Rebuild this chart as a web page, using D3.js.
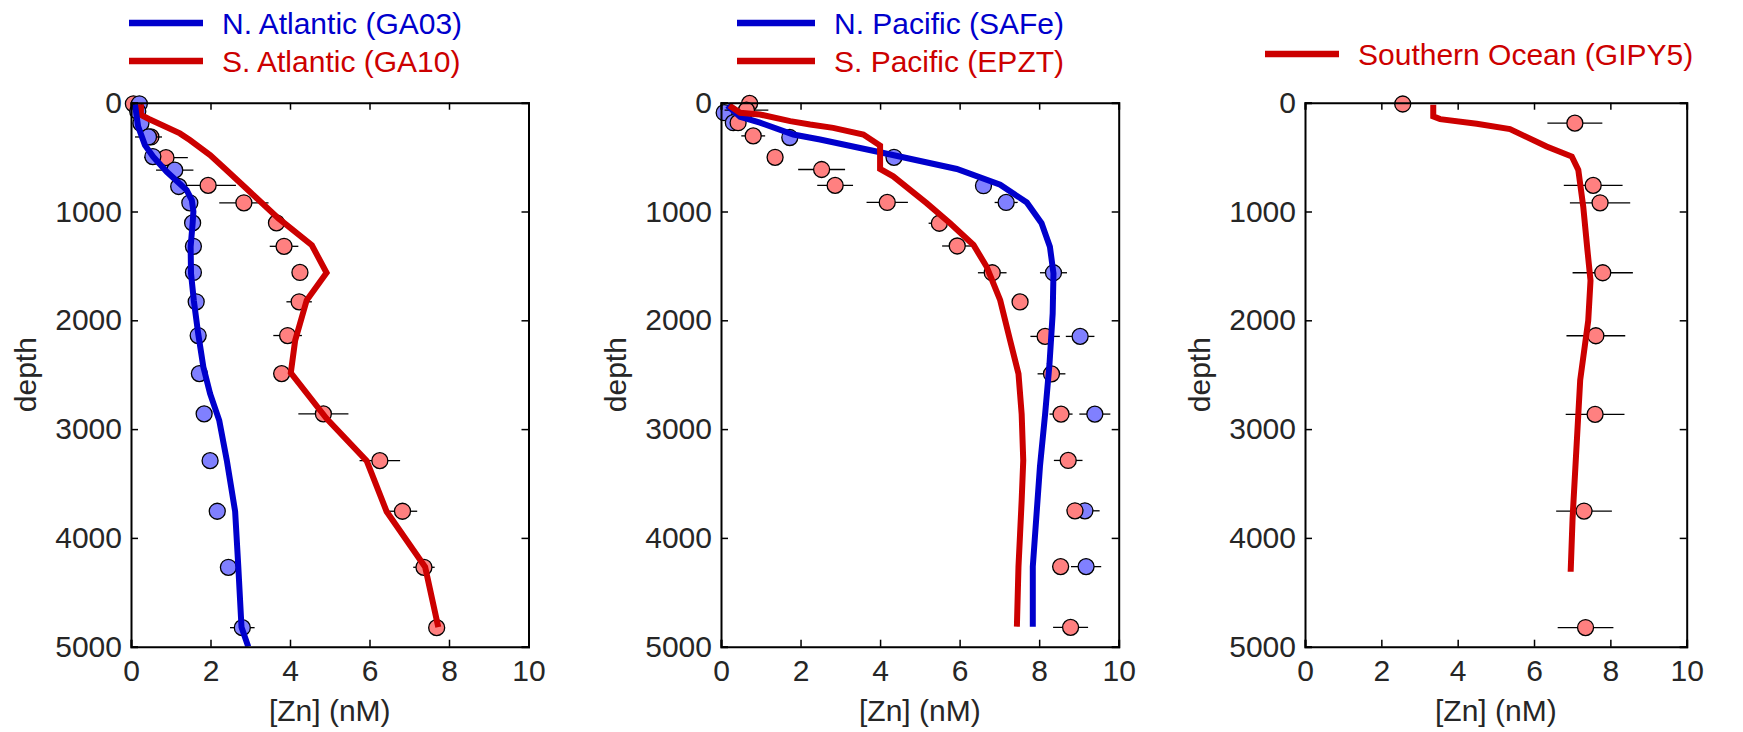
<!DOCTYPE html>
<html>
<head>
<meta charset="utf-8">
<script src="https://cdn.jsdelivr.net/npm/d3@7"></script>
<style>
  html, body { margin: 0; padding: 0; background: #fff; }
  svg { display: block; font-family: "Liberation Sans", Arial, Helvetica, sans-serif; }
</style>
</head>
<body>
<svg id="chart" width="1743" height="732"></svg>
<script>
// ---- Dissolved zinc profiles: observations (circles) and model (lines) ----

// N. Atlantic (GA03)
const ga03Depth = [10, 80, 190, 315, 495, 620, 770, 920, 1105, 1320, 1560, 1830, 2140, 2490, 2860, 3290, 3755, 4270, 4825];
const ga03Zn    = [0.21, 0.17, 0.25, 0.44, 0.55, 1.10, 1.20, 1.48, 1.55, 1.57, 1.57, 1.64, 1.69, 1.72, 1.84, 1.99, 2.17, 2.45, 2.80];
const ga03Err   = [0, 0, 0, 0.34, 0, 0.47, 0, 0, 0, 0, 0, 0, 0, 0, 0, 0, 0, 0, 0.31];
const ga03ModelDepth = [15, 220, 390, 497, 635, 803, 895, 1000, 1110, 1325, 1570, 1816, 2122, 2429, 2674, 2920, 3287, 3757, 4268, 4820, 5000];
const ga03ModelZn    = [0.10, 0.18, 0.35, 0.56, 0.90, 1.40, 1.53, 1.57, 1.55, 1.50, 1.51, 1.58, 1.69, 1.82, 1.99, 2.22, 2.41, 2.62, 2.70, 2.78, 2.95];

// S. Atlantic (GA10)
const ga10Depth = [10, 315, 505, 760, 920, 1105, 1320, 1560, 1830, 2140, 2490, 2860, 3290, 3755, 4270, 4825];
const ga10Zn    = [0.06, 0.50, 0.88, 1.94, 2.84, 3.66, 3.85, 4.25, 4.23, 3.94, 3.79, 4.84, 6.26, 6.83, 7.37, 7.69];
const ga10Err   = [0, 0, 0.55, 0.70, 0.62, 0, 0.36, 0, 0.32, 0.36, 0.20, 0.63, 0.51, 0.37, 0.27, 0.10];
const ga10ModelDepth = [15, 113, 150, 282, 343, 481, 619, 819, 1064, 1310, 1564, 1816, 2184, 2484, 2904, 3293, 3757, 4268, 4820];
const ga10ModelZn    = [0.25, 0.25, 0.45, 1.23, 1.48, 1.99, 2.40, 2.99, 3.71, 4.55, 4.92, 4.42, 4.13, 4.02, 4.92, 5.93, 6.43, 7.40, 7.73];

// N. Pacific (SAFe)
const safeDepth = [92, 184, 320, 502, 763, 917, 1563, 2148, 2862, 3751, 4264];
const safeZn    = [0.08, 0.31, 1.73, 4.35, 6.60, 7.17, 8.36, 9.03, 9.40, 9.15, 9.18];
const safeErr   = [0, 0, 0, 0, 0, 0.29, 0.34, 0.36, 0.39, 0.37, 0.38];
const safeModelDepth = [25, 129, 184, 292, 338, 455, 609, 754, 917, 1108, 1323, 1569, 1938, 2400, 2862, 3343, 3956, 4264, 4816];
const safeModelZn    = [0.16, 0.48, 0.98, 1.82, 2.49, 4.00, 5.93, 7.02, 7.69, 8.06, 8.27, 8.36, 8.34, 8.26, 8.15, 8.02, 7.90, 7.84, 7.84];

// S. Pacific (EPZT)
const epztDepth = [6, 68, 184, 305, 502, 614, 760, 917, 1108, 1317, 1563, 1831, 2148, 2492, 2862, 3288, 3751, 4264, 4822];
const epztZn    = [0.72, 0.64, 0.43, 0.81, 1.36, 2.53, 2.87, 4.18, 5.49, 5.94, 6.82, 7.52, 8.15, 8.31, 8.55, 8.73, 8.90, 8.54, 8.79];
const epztErr   = [0.50, 0.55, 0, 0.30, 0, 0.59, 0.45, 0.52, 0.27, 0.38, 0.36, 0, 0.37, 0.35, 0.29, 0.36, 0.20, 0.20, 0.44];
const epztModelDepth = [25, 92, 108, 169, 200, 231, 292, 394, 609, 677, 923, 1108, 1308, 1508, 1815, 2185, 2492, 2862, 3288, 3656, 3963, 4264, 4816];
const epztModelZn    = [0.21, 0.48, 0.98, 1.74, 2.24, 2.82, 3.58, 4.00, 4.00, 4.33, 5.17, 5.76, 6.35, 6.68, 7.02, 7.27, 7.48, 7.56, 7.60, 7.56, 7.52, 7.48, 7.44];

// Southern Ocean (GIPY5)
const gipy5Depth = [12, 188, 760, 920, 1563, 2142, 2864, 3753, 4824];
const gipy5Zn    = [2.56, 7.07, 7.55, 7.73, 7.80, 7.62, 7.60, 7.31, 7.35];
const gipy5Err   = [0.08, 0.72, 0.77, 0.79, 0.79, 0.77, 0.77, 0.73, 0.73];
const gipy5ModelDepth = [18, 126, 151, 194, 243, 403, 495, 618, 957, 1357, 1634, 2003, 2548, 3820, 4311];
const gipy5ModelZn    = [3.36, 3.36, 3.54, 4.50, 5.37, 6.33, 6.99, 7.16, 7.29, 7.40, 7.48, 7.42, 7.21, 7.01, 6.96];

// Axis ticks and labels
const xTicks = [0, 2, 4, 6, 8, 10];
const yTicks = [0, 1000, 2000, 3000, 4000, 5000];
const xLabel = "[Zn] (nM)";
const yLabel = "depth";

// Colours
const BLUE = "#0000cc", RED = "#cc0000";
const BLUE_FILL = "#8080ff", RED_FILL = "#ff8080";

const zip = (d, z, e) => d.map((v, i) => ({ depth: v, zn: z[i], err: e ? e[i] : 0 }));

// Panels; series listed in drawing order (later drawn on top)
const panels = [
  {
    left: 131, right: 528.5, legendX: 129, legendY: 23, legendLen: 74,
    series: [
      { name: "S. Atlantic (GA10)", color: RED, fill: RED_FILL, obs: zip(ga10Depth, ga10Zn, ga10Err), model: zip(ga10ModelDepth, ga10ModelZn) },
      { name: "N. Atlantic (GA03)", color: BLUE, fill: BLUE_FILL, obs: zip(ga03Depth, ga03Zn, ga03Err), model: zip(ga03ModelDepth, ga03ModelZn) }
    ],
    legendOrder: [1, 0]
  },
  {
    left: 721, right: 1118.7, legendX: 737, legendY: 23, legendLen: 78,
    series: [
      { name: "N. Pacific (SAFe)", color: BLUE, fill: BLUE_FILL, obs: zip(safeDepth, safeZn, safeErr), model: zip(safeModelDepth, safeModelZn) },
      { name: "S. Pacific (EPZT)", color: RED, fill: RED_FILL, obs: zip(epztDepth, epztZn, epztErr), model: zip(epztModelDepth, epztModelZn) }
    ],
    legendOrder: [0, 1]
  },
  {
    left: 1305, right: 1686.7, legendX: 1265, legendY: 54, legendLen: 74,
    series: [
      { name: "Southern Ocean (GIPY5)", color: RED, fill: RED_FILL, obs: zip(gipy5Depth, gipy5Zn, gipy5Err), model: zip(gipy5ModelDepth, gipy5ModelZn) }
    ],
    legendOrder: [0]
  }
];

const TOP = 102.7, BOTTOM = 646.7;
const svg = d3.select("#chart");
const FONT = 30;
const TICK_COLOR = "#262626";

panels.forEach((p, pi) => {
  const x = d3.scaleLinear().domain([0, 10]).range([p.left, p.right]);
  const y = d3.scaleLinear().domain([0, 5000]).range([TOP, BOTTOM]);
  const g = svg.append("g");

  const clipId = "clip" + pi;
  svg.append("clipPath").attr("id", clipId)
    .append("rect").attr("x", p.left).attr("y", TOP).attr("width", p.right - p.left).attr("height", BOTTOM - TOP);

  // observations: error bars then circles, one series at a time
  p.series.forEach(s => {
    const sg = g.append("g");
    sg.selectAll("line.err").data(s.obs.filter(d => d.err > 0)).join("line")
      .attr("x1", d => x(d.zn - d.err)).attr("x2", d => x(d.zn + d.err))
      .attr("y1", d => y(d.depth)).attr("y2", d => y(d.depth))
      .attr("stroke", "#000").attr("stroke-width", 1.3);
    sg.selectAll("circle").data(s.obs).join("circle")
      .attr("cx", d => x(d.zn)).attr("cy", d => y(d.depth)).attr("r", 8)
      .attr("fill", s.fill).attr("stroke", "#000").attr("stroke-width", 1.3);
  });

  // model profiles
  const line = d3.line().x(d => x(d.zn)).y(d => y(d.depth));
  p.series.forEach(s => {
    g.append("path").datum(s.model)
      .attr("d", line).attr("fill", "none")
      .attr("stroke", s.color).attr("stroke-width", 6)
      .attr("stroke-linejoin", "miter").attr("stroke-miterlimit", 2)
      .attr("clip-path", `url(#${clipId})`);
  });

  // axes box with inward ticks
  const ax = svg.append("g");
  const xb = ax.append("g").attr("transform", `translate(0,${BOTTOM})`)
    .call(d3.axisBottom(x).tickValues(xTicks).tickSize(-7).tickPadding(13).tickFormat(d3.format("d")));
  const xt = ax.append("g").attr("transform", `translate(0,${TOP})`)
    .call(d3.axisTop(x).tickValues(xTicks).tickSize(-7).tickFormat(""));
  const yl = ax.append("g").attr("transform", `translate(${p.left},0)`)
    .call(d3.axisLeft(y).tickValues(yTicks).tickSize(-7).tickPadding(9).tickFormat(d3.format("d")));
  const yr = ax.append("g").attr("transform", `translate(${p.right},0)`)
    .call(d3.axisRight(y).tickValues(yTicks).tickSize(-7).tickFormat(""));
  [xb, xt, yl, yr].forEach(a => {
    a.select(".domain").attr("stroke", "#000").attr("stroke-width", 2);
    a.selectAll(".tick line").attr("stroke", "#000").attr("stroke-width", 1.5);
    a.selectAll(".tick text").attr("fill", TICK_COLOR).attr("font-size", FONT)
      .attr("font-family", "Liberation Sans, Arial, sans-serif");
  });
  xb.selectAll(".tick text").attr("dy", "0.71em");

  // axis labels
  svg.append("text").attr("x", (p.left + p.right) / 2).attr("y", 721)
    .attr("text-anchor", "middle").attr("font-size", FONT).attr("fill", TICK_COLOR).text(xLabel);
  svg.append("text").attr("transform", `translate(${p.left - 95},${(TOP + BOTTOM) / 2}) rotate(-90)`)
    .attr("text-anchor", "middle").attr("font-size", FONT).attr("fill", TICK_COLOR).text(yLabel);

  // legend
  const lg = svg.append("g");
  p.legendOrder.forEach((si, row) => {
    const s = p.series[si];
    const ly = p.legendY + row * 38;
    lg.append("line").attr("x1", p.legendX).attr("x2", p.legendX + p.legendLen)
      .attr("y1", ly).attr("y2", ly).attr("stroke", s.color).attr("stroke-width", 6.5);
    lg.append("text").attr("x", p.legendX + p.legendLen + 19).attr("y", ly + 10.5)
      .attr("font-size", FONT).attr("fill", s.color).text(s.name);
  });
});
</script>
</body>
</html>
